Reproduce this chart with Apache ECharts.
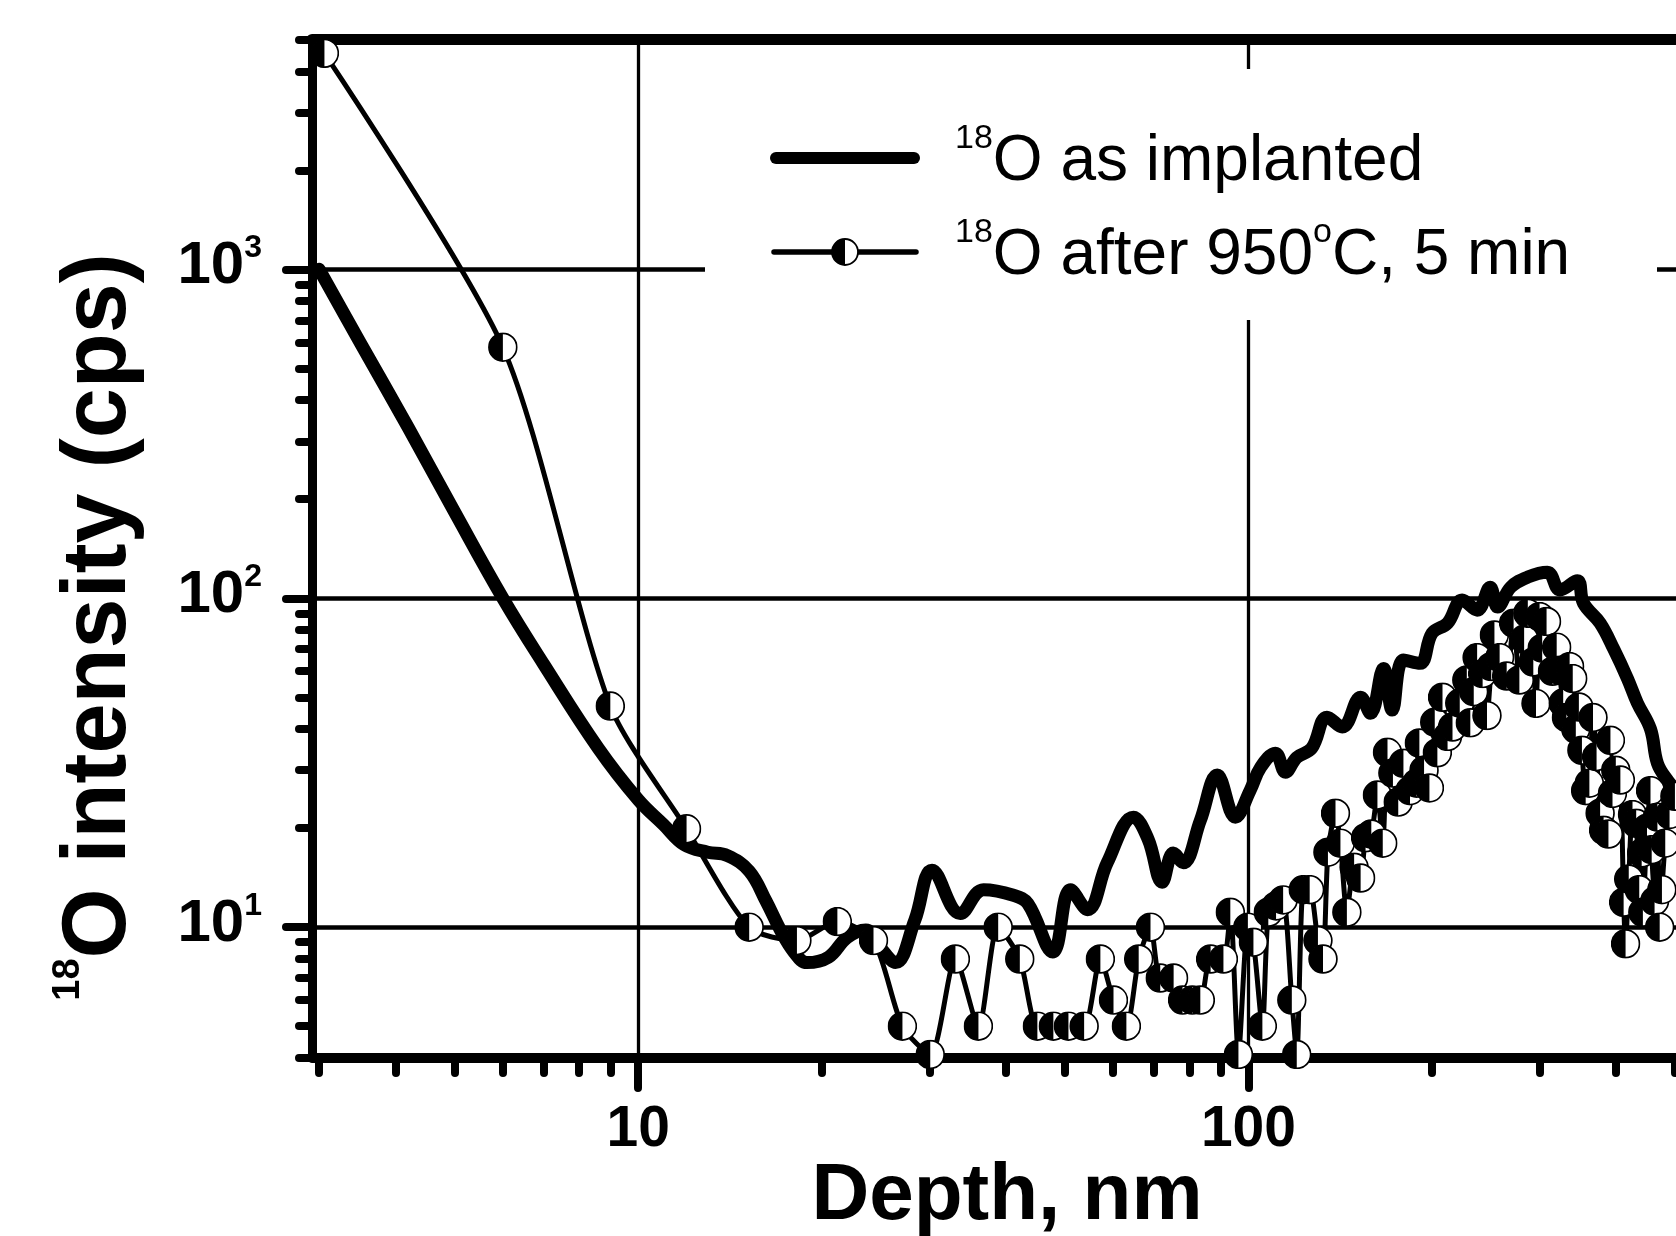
<!DOCTYPE html>
<html><head><meta charset="utf-8">
<script src="https://cdn.jsdelivr.net/npm/echarts@6/dist/echarts.min.js"></script>
<style>html,body{margin:0;padding:0;background:#fff}#c{width:1676px;height:1236px}</style>
</head><body><div id="c"></div>
<script>
// ---------- data ----------
const implantedDepth = [3.0, 3.5, 4.2, 5.0, 6.0, 7.0, 8.6, 10.0, 11.0, 11.9,
  13.0, 14.0, 15.2, 16.2, 17.1, 18.0, 18.9, 20.5, 22.0, 23.6,
  25.0, 26.4, 28.4, 30.3, 33.7, 36.8, 41.2, 43.5, 47.8, 51.1,
  54.5, 58.7, 64.8, 68.5, 72.2, 75.3, 78.2, 83.4, 88.9, 95.2,
  100.7, 104.7, 110.7, 115, 120, 127, 134.5, 142.5, 152.7, 158.5,
  166.5, 172, 179.5, 191, 200, 212, 224, 237, 249, 256,
  269, 287, 309, 324, 346, 354, 377, 397, 418, 434,
  456, 468, 486, 500, 540, 600];
const implantedCps = [1000, 600, 330, 183, 100, 63, 35, 24.4, 20.5, 17.8,
  16.9, 16.5, 14.8, 12.0, 9.8, 8.4, 7.8, 8.1, 9.3, 9.8,
  8.6, 7.8, 10.5, 14.9, 11.0, 13.0, 12.5, 11.8, 8.4, 13.0,
  11.3, 15.7, 21.6, 18.5, 13.7, 16.8, 15.7, 21.1, 29.0, 21.6,
  26.1, 30.6, 33.8, 29.6, 32.8, 35.0, 43.5, 40.6, 50.0, 44.7,
  61.2, 45.7, 64.9, 63.4, 78.3, 84.0, 98.7, 92.0, 108, 94.0,
  108, 116, 120, 106, 113, 96.6, 84.0, 70.0, 57.0, 48.0,
  40.0, 31.5, 28.0, 26.5, 25.0, 24.0];

const annealedDepth = [3.06, 6.0, 9.0, 12.0, 15.2, 18.2, 21.2, 24.3, 27.1, 30.1,
  33.1, 36.1, 38.9, 42.2, 45.1, 47.9, 50.7, 53.8, 57.2, 60.1,
  63.1, 66.1, 69.1, 71.7, 75.4, 78.0, 80.9, 83.4, 86.7, 91.0,
  93.4, 96.3, 99.8, 101.9, 105.4, 107.8, 111, 114, 117.8, 120,
  123, 126, 130, 132.5, 135, 138.9, 141.5, 145, 149, 152.7,
  155.6, 159, 162.7, 166, 169, 172.5, 176, 179.5, 184, 188.6,
  190.6, 194, 198, 202, 204, 208, 212, 216, 222, 228,
  231, 234, 237, 242, 246, 250, 253, 258, 265, 272,
  278, 283, 287, 293, 296, 300, 303, 308, 315, 320,
  323, 328, 332, 336, 340, 344, 348, 352, 357, 362,
  367, 372, 377, 382, 389, 392, 395, 400, 407, 412,
  415, 420, 426, 432, 437, 441, 443, 450, 456, 458,
  463, 468, 472, 476, 482, 490, 500, 520];
const annealedCps = [4540, 580, 47, 19.9, 10.0, 9.1, 10.4, 9.1, 5.0, 4.1,
  8.0, 5.0, 10.0, 8.0, 5.0, 5.0, 5.0, 5.0, 8.0, 6.0,
  5.0, 8.0, 10.0, 7.0, 7.0, 6.0, 6.0, 6.0, 8.0, 8.0,
  11.1, 4.1, 10.0, 9.0, 5.0, 11.1, 11.6, 12.1, 6.0, 4.1,
  13.0, 13.0, 9.1, 8.0, 16.9, 22.2, 18.0, 11.1, 15.2, 14.1,
  18.7, 19.2, 25.2, 18.0, 34.0, 29.4, 24.0, 31.5, 26.0, 27.4,
  36.3, 30.0, 26.5, 42.0, 33.9, 50.0, 38.0, 40.6, 48.0, 56.4,
  41.8, 52.0, 66.0, 59.0, 44.0, 62.0, 77.3, 66.0, 58.0, 84.0,
  56.4, 75.0, 90.0, 64.0, 47.9, 88.0, 70.5, 85.0, 60.0, 71.0,
  60.4, 48.0, 43.4, 62.0, 57.0, 40.0, 46.7, 34.5, 26.0, 27.4,
  43.4, 33.0, 22.2, 19.7, 19.2, 37.0, 25.5, 30.0, 28.0, 11.9,
  8.9, 14.0, 22.0, 20.7, 13.0, 16.8, 11.1, 20.0, 26.0, 17.2,
  12.0, 21.6, 10.0, 13.0, 18.0, 22.0, 25.0, 22.0];

// ---------- ticks & labels ----------
const xMajorTicks = [10, 100];
const xMinorTicks = [3, 4, 5, 6, 7, 8, 9, 20, 30, 40, 50, 60, 70, 80, 90, 200, 300, 400, 500];
const xLabelValues = [10, 100];
const xLabelTexts = ['10', '100'];
const yMajorTicks = [10, 100, 1000];
const yMinorTicks = [4, 5, 6, 7, 8, 9, 20, 30, 40, 50, 60, 70, 80, 90, 200, 300, 400, 500, 600, 700, 800, 900, 2000, 3000, 4000, 5000];
const yLabelValues = [10, 100, 1000];
const yLabelExps = ['1', '2', '3'];

const seriesNames = ['implanted', 'annealed'];
const xTitle = 'Depth, nm';

const X_MIN = 2.92, X_MAX = 502, Y_MIN = 4, Y_MAX = 5000;
const FONT = "'Liberation Sans', Arial, Helvetica, sans-serif";

function svgUri(s) { return 'image://data:image/svg+xml;charset=utf-8,' + encodeURIComponent(s); }
const markerSvg = "<svg xmlns='http://www.w3.org/2000/svg' width='60' height='60' viewBox='0 0 60 60'>" +
  "<circle cx='30' cy='30' r='27.8' fill='#fff' stroke='#000' stroke-width='3.4'/>" +
  "<path d='M30 2.2 A27.8 27.8 0 0 0 30 57.8 Z' fill='#000'/></svg>";
const iconImplanted = "<svg xmlns='http://www.w3.org/2000/svg' width='180' height='32' viewBox='0 0 180 32'>" +
  "<line x1='6' y1='16' x2='144' y2='16' stroke='#000' stroke-width='12' stroke-linecap='round'/></svg>";
const iconAnnealed = "<svg xmlns='http://www.w3.org/2000/svg' width='180' height='32' viewBox='0 0 180 32'>" +
  "<line x1='4' y1='16' x2='146' y2='16' stroke='#000' stroke-width='5.5' stroke-linecap='round'/>" +
  "<circle cx='75' cy='16' r='13' fill='#fff' stroke='#000' stroke-width='1.8'/>" +
  "<path d='M75 3 A13 13 0 0 0 75 29 Z' fill='#000'/></svg>";

const implantedData = implantedDepth.map((d, i) => [d, implantedCps[i]]);
const annealedData = annealedDepth.map((d, i) => [d, annealedCps[i]]);

const chart = echarts.init(document.getElementById('c'), null, {renderer: 'canvas', width: 1676, height: 1236});

const tickStyle = (w) => ({color: '#000', width: w, cap: 'round'});
const hidden = {show: false};

const option = {
  animation: false,
  backgroundColor: '#fff',
  grid: {left: 312, top: 39.5, right: 0, bottom: 178, containLabel: false},
  xAxis: [
    {type: 'log', min: X_MIN, max: X_MAX, position: 'bottom',
      axisLine: {show: true, lineStyle: {color: '#000', width: 10}},
      axisTick: {show: true, customValues: xMajorTicks, length: 30, lineStyle: tickStyle(8)},
      axisLabel: {show: true, customValues: xLabelValues,
        formatter: v => xLabelTexts[xLabelValues.indexOf(v)] || String(v),
        color: '#000', fontSize: 57, fontWeight: 'bold', fontFamily: FONT, margin: 44},
      splitLine: {show: true, lineStyle: {color: '#000', width: 3.3}},
      minorTick: hidden, minorSplitLine: hidden},
    {type: 'log', min: X_MIN, max: X_MAX, position: 'bottom',
      axisLine: hidden,
      axisTick: {show: true, customValues: xMinorTicks, length: 15, lineStyle: tickStyle(8)},
      axisLabel: hidden, splitLine: hidden},
    {type: 'log', min: X_MIN, max: X_MAX, position: 'top',
      axisLine: {show: true, lineStyle: {color: '#000', width: 11}},
      axisTick: hidden, axisLabel: hidden, splitLine: hidden}
  ],
  yAxis: [
    {type: 'log', min: Y_MIN, max: Y_MAX, position: 'left',
      axisLine: {show: true, lineStyle: {color: '#000', width: 9}},
      axisTick: {show: true, customValues: yMajorTicks, length: 26, lineStyle: tickStyle(8)},
      axisLabel: {show: true, customValues: yLabelValues,
        formatter: v => '{b|10}{s|' + (yLabelExps[yLabelValues.indexOf(v)] || Math.round(Math.log10(v))) + '}',
        margin: 50, color: '#000', padding: [0, 0, 10, 0],
        rich: {
          b: {fontSize: 60, fontWeight: 'bold', fontFamily: FONT, color: '#000', lineHeight: 64, verticalAlign: 'bottom'},
          s: {fontSize: 32, fontWeight: 'bold', fontFamily: FONT, color: '#000', lineHeight: 30, padding: [0, 0, 46, 0], verticalAlign: 'top'}
        }},
      splitLine: {show: true, lineStyle: {color: '#000', width: 4.5}},
      minorTick: hidden, minorSplitLine: hidden},
    {type: 'log', min: Y_MIN, max: Y_MAX, position: 'left',
      axisLine: hidden,
      axisTick: {show: true, customValues: yMinorTicks, length: 13, lineStyle: tickStyle(8)},
      axisLabel: hidden, splitLine: hidden}
  ],
  legend: {
    orient: 'vertical', left: 770, top: 122, padding: 0, itemGap: 6,
    itemWidth: 180, itemHeight: 32, selectedMode: false,
    data: [
      {name: seriesNames[0], icon: svgUri(iconImplanted)},
      {name: seriesNames[1], icon: svgUri(iconAnnealed)}
    ],
    formatter: name => name === seriesNames[0]
      ? '{s|18}{m|O as implanted}'
      : '{s|18}{m|O after 950}{s|o}{m|C, 5 min}',
    textStyle: {
      color: '#000', fontFamily: FONT,
      rich: {
        m: {fontSize: 64, fontFamily: FONT, color: '#000', lineHeight: 72, verticalAlign: 'bottom'},
        s: {fontSize: 34, fontFamily: FONT, color: '#000', lineHeight: 30, padding: [0, 0, 54, 0], verticalAlign: 'top'}
      }
    }
  },
  graphic: [
    {type: 'rect', z: 1, silent: true, shape: {x: 705, y: 69, width: 952, height: 251}, style: {fill: '#fff'}},
    {type: 'text', z: 5, x: 1007, y: 1197, silent: true,
      style: {text: xTitle, fontSize: 80, fontWeight: 'bold', fontFamily: FONT, fill: '#000', align: 'center', verticalAlign: 'middle'}},
    {type: 'text', z: 5, x: 100, y: 627, rotation: Math.PI / 2, silent: true,
      style: {text: '{s|18}{m|O intensity (cps)}', fill: '#000', align: 'center', verticalAlign: 'middle',
        rich: {
          m: {fontSize: 90, fontWeight: 'bold', fontFamily: FONT, fill: '#000', lineHeight: 100},
          s: {fontSize: 38, fontWeight: 'bold', fontFamily: FONT, fill: '#000', lineHeight: 40, verticalAlign: 'top'}
        }}}
  ],
  series: [
    {name: seriesNames[0], type: 'line', xAxisIndex: 0, yAxisIndex: 0, data: implantedData,
      smooth: 0.4, showSymbol: false, symbol: 'none',
      lineStyle: {color: '#000', width: 13, cap: 'round', join: 'round'}, z: 3},
    {name: seriesNames[1], type: 'line', xAxisIndex: 0, yAxisIndex: 0, data: annealedData,
      smooth: 0.25, symbol: svgUri(markerSvg), symbolSize: 30, showSymbol: true, showAllSymbol: true,
      itemStyle: {color: '#000'},
      lineStyle: {color: '#000', width: 5, join: 'round'}, z: 4}
  ]
};
chart.setOption(option);
</script>
</body></html>
